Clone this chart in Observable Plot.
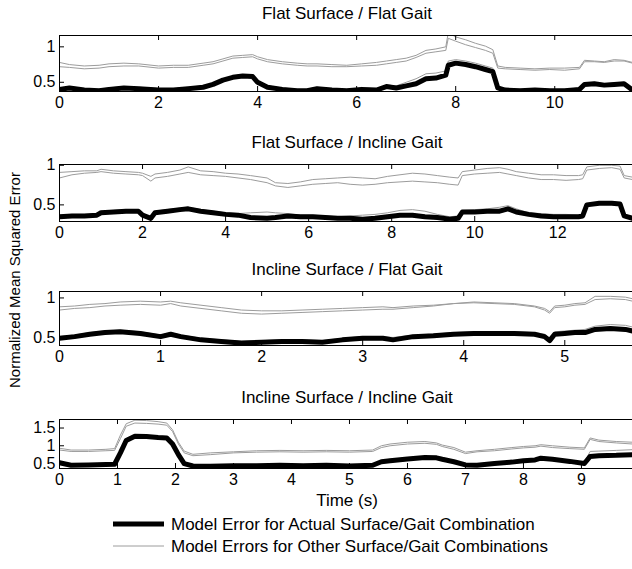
<!DOCTYPE html>
<html><head><meta charset="utf-8">
<script src="https://cdn.jsdelivr.net/npm/d3@7"></script>
<script src="https://cdn.jsdelivr.net/npm/@observablehq/plot@0.6"></script>
<style>
body{margin:0;background:#fff;}
#chart{position:relative;width:632px;height:569px;overflow:hidden;font-family:"Liberation Sans",Arial,Helvetica,sans-serif;color:#000;background:#fff;}
.title{position:absolute;left:59px;width:576px;text-align:center;font-size:17px;line-height:17px;white-space:nowrap;}
.panel{position:absolute;left:0;}
.ylab{position:absolute;font-size:15px;line-height:15px;white-space:nowrap;transform:translate(-50%,-50%) rotate(-90deg);}
.xlab{position:absolute;left:59px;width:576px;text-align:center;font-size:17px;line-height:17px;}
.legend{position:absolute;left:0;top:0;}
</style>
</head><body>
<div id="chart"></div>
<script>
// ---------- data ----------
const titles = ["Flat Surface / Flat Gait","Flat Surface / Incline Gait","Incline Surface / Flat Gait","Incline Surface / Incline Gait"];
const xLabel = "Time (s)";
const yLabel = "Normalized Mean Squared Error";
const legendLabels = ["Model Error for Actual Surface/Gait Combination","Model Errors for Other Surface/Gait Combinations"];

const p1XTicks = [0,2,4,6,8,10];
const p2XTicks = [0,2,4,6,8,10,12];
const p3XTicks = [0,1,2,3,4,5];
const p4XTicks = [0,1,2,3,4,5,6,7,8,9];
const p1YTicks = [0.5,1];
const p2YTicks = [0.5,1];
const p3YTicks = [0.5,1];
const p4YTicks = [0.5,1,1.5];

const p1Time = [0,0.2,0.5,0.8,1.0,1.3,1.6,2.0,2.3,2.6,2.9,3.1,3.3,3.5,3.7,3.9,4.0,4.2,4.5,4.8,5.0,5.2,5.5,5.8,6.1,6.4,6.6,6.8,7.0,7.2,7.4,7.6,7.8,7.85,8.0,8.2,8.4,8.6,8.75,8.85,9.0,9.3,9.6,9.9,10.2,10.5,10.6,10.8,11.0,11.2,11.4,11.57];
const p1Actual = [0.40,0.42,0.39,0.38,0.40,0.42,0.41,0.39,0.39,0.41,0.43,0.47,0.53,0.57,0.59,0.58,0.50,0.43,0.40,0.38,0.38,0.41,0.39,0.38,0.40,0.39,0.44,0.42,0.45,0.48,0.55,0.56,0.60,0.74,0.77,0.75,0.72,0.68,0.65,0.42,0.39,0.38,0.39,0.38,0.38,0.40,0.47,0.48,0.46,0.47,0.48,0.39];
const p1OtherA = [0.78,0.75,0.73,0.74,0.76,0.77,0.76,0.73,0.74,0.74,0.77,0.79,0.83,0.87,0.88,0.89,0.86,0.82,0.79,0.77,0.76,0.76,0.75,0.74,0.76,0.78,0.80,0.82,0.84,0.88,0.95,0.97,1.00,1.20,1.14,1.10,1.05,1.01,0.96,0.73,0.71,0.70,0.69,0.70,0.70,0.71,0.81,0.80,0.79,0.82,0.81,0.78];
const p1OtherB = [0.72,0.71,0.69,0.70,0.72,0.73,0.73,0.70,0.71,0.71,0.74,0.76,0.80,0.84,0.85,0.86,0.83,0.79,0.76,0.74,0.73,0.73,0.72,0.72,0.73,0.74,0.76,0.78,0.80,0.85,0.91,0.93,0.95,1.12,1.08,1.03,0.99,0.95,0.91,0.70,0.69,0.68,0.67,0.68,0.67,0.69,0.79,0.79,0.78,0.80,0.80,0.77];
const p1OtherC = [0.42,0.44,0.41,0.40,0.42,0.44,0.43,0.41,0.41,0.43,0.45,0.49,0.55,0.59,0.61,0.60,0.52,0.45,0.42,0.40,0.40,0.43,0.41,0.40,0.42,0.41,0.46,0.45,0.50,0.55,0.62,0.63,0.66,0.80,0.82,0.80,0.77,0.73,0.70,0.44,0.41,0.40,0.41,0.40,0.40,0.42,0.49,0.50,0.48,0.49,0.50,0.41];

const p2Time = [0,0.3,0.6,0.9,1.0,1.3,1.6,1.9,2.0,2.2,2.3,2.6,2.9,3.1,3.4,3.7,4.0,4.3,4.6,5.0,5.2,5.5,5.8,6.1,6.4,6.7,7.0,7.3,7.6,7.9,8.2,8.5,8.8,9.1,9.4,9.6,9.7,10.0,10.3,10.6,10.8,11.0,11.3,11.6,11.9,12.2,12.5,12.6,12.7,13.0,13.3,13.5,13.6,13.8];
const p2Actual = [0.35,0.36,0.36,0.37,0.40,0.41,0.42,0.42,0.37,0.33,0.40,0.42,0.44,0.45,0.42,0.40,0.38,0.37,0.34,0.33,0.34,0.36,0.35,0.35,0.34,0.33,0.33,0.32,0.33,0.35,0.37,0.37,0.35,0.34,0.32,0.33,0.41,0.41,0.42,0.42,0.45,0.41,0.38,0.36,0.35,0.35,0.35,0.36,0.50,0.52,0.52,0.51,0.36,0.33];
const p2OtherA = [0.91,0.92,0.93,0.93,0.95,0.93,0.92,0.91,0.90,0.86,0.89,0.91,0.94,0.98,0.93,0.92,0.90,0.89,0.87,0.84,0.78,0.77,0.79,0.82,0.83,0.84,0.85,0.84,0.83,0.86,0.88,0.90,0.89,0.87,0.85,0.84,0.92,0.94,0.96,0.97,0.95,0.92,0.90,0.88,0.88,0.87,0.87,0.88,0.98,1.00,1.00,0.99,0.87,0.85];
const p2OtherB = [0.84,0.88,0.90,0.91,0.92,0.90,0.89,0.88,0.87,0.80,0.84,0.86,0.89,0.91,0.88,0.87,0.86,0.84,0.82,0.78,0.74,0.72,0.74,0.76,0.77,0.78,0.76,0.75,0.76,0.78,0.79,0.80,0.79,0.78,0.76,0.75,0.87,0.89,0.90,0.91,0.89,0.87,0.84,0.82,0.82,0.81,0.82,0.83,0.94,0.96,0.97,0.95,0.84,0.82];
const p2OtherC = [0.37,0.38,0.38,0.39,0.42,0.43,0.44,0.44,0.39,0.35,0.42,0.44,0.46,0.47,0.44,0.42,0.40,0.39,0.40,0.41,0.40,0.39,0.37,0.37,0.36,0.35,0.36,0.37,0.38,0.40,0.43,0.44,0.42,0.38,0.35,0.36,0.43,0.44,0.45,0.47,0.49,0.45,0.40,0.39,0.38,0.38,0.37,0.38,0.51,0.53,0.53,0.52,0.38,0.35];

const p3Time = [0,0.15,0.3,0.45,0.6,0.8,1.0,1.1,1.2,1.4,1.6,1.8,2.0,2.2,2.4,2.6,2.8,3.0,3.2,3.3,3.5,3.7,3.9,4.1,4.3,4.5,4.7,4.8,4.85,4.9,5.0,5.1,5.2,5.3,5.45,5.6,5.67];
const p3Actual = [0.50,0.52,0.55,0.57,0.58,0.56,0.52,0.55,0.52,0.48,0.46,0.44,0.45,0.46,0.46,0.45,0.48,0.50,0.50,0.48,0.52,0.53,0.55,0.56,0.56,0.56,0.55,0.52,0.47,0.55,0.56,0.57,0.57,0.61,0.62,0.61,0.59];
const p3OtherA = [0.89,0.90,0.92,0.93,0.95,0.96,0.95,0.96,0.94,0.91,0.88,0.85,0.84,0.84,0.85,0.86,0.87,0.88,0.89,0.88,0.90,0.91,0.93,0.95,0.94,0.93,0.90,0.87,0.83,0.90,0.91,0.93,0.94,1.02,1.02,1.01,0.99];
const p3OtherB = [0.85,0.87,0.88,0.90,0.91,0.92,0.91,0.93,0.90,0.87,0.84,0.81,0.80,0.81,0.82,0.83,0.84,0.85,0.86,0.86,0.88,0.90,0.93,0.94,0.93,0.92,0.89,0.85,0.81,0.88,0.89,0.91,0.92,0.98,0.99,0.98,0.96];
const p3OtherC = [0.52,0.54,0.57,0.59,0.60,0.58,0.54,0.57,0.54,0.50,0.48,0.46,0.47,0.48,0.48,0.47,0.50,0.52,0.52,0.51,0.54,0.55,0.57,0.58,0.58,0.58,0.57,0.55,0.50,0.58,0.59,0.60,0.61,0.65,0.67,0.66,0.64];

const p4Time = [0,0.2,0.5,0.8,0.95,1.05,1.15,1.3,1.5,1.7,1.85,1.95,2.05,2.15,2.3,2.6,3.0,3.4,3.8,4.2,4.6,5.0,5.4,5.55,5.7,6.0,6.3,6.5,6.6,6.8,7.0,7.2,7.5,7.8,8.0,8.2,8.3,8.5,8.8,9.05,9.15,9.3,9.6,9.88];
const p4Actual = [0.52,0.45,0.46,0.47,0.48,0.80,1.15,1.27,1.26,1.23,1.22,1.05,0.75,0.50,0.43,0.42,0.44,0.44,0.45,0.44,0.45,0.43,0.45,0.55,0.58,0.63,0.67,0.66,0.62,0.55,0.46,0.45,0.50,0.54,0.58,0.60,0.65,0.62,0.56,0.50,0.70,0.72,0.73,0.75];
const p4OtherA = [0.93,0.88,0.88,0.90,0.92,1.30,1.62,1.72,1.71,1.68,1.64,1.45,1.10,0.85,0.76,0.80,0.83,0.86,0.87,0.86,0.87,0.86,0.88,1.00,1.05,1.10,1.12,1.08,1.02,0.95,0.82,0.86,0.90,0.95,0.98,1.00,1.03,1.00,0.96,0.94,1.22,1.16,1.12,1.10];
const p4OtherB = [0.88,0.84,0.84,0.86,0.87,1.20,1.55,1.64,1.63,1.61,1.58,1.40,1.05,0.80,0.72,0.75,0.80,0.82,0.83,0.82,0.83,0.82,0.84,0.95,1.00,1.05,1.07,1.04,0.98,0.90,0.78,0.83,0.86,0.91,0.94,0.96,0.99,0.95,0.92,0.90,1.18,1.12,1.08,1.05];
const p4OtherC = [0.55,0.48,0.49,0.50,0.51,0.85,1.20,1.31,1.30,1.27,1.26,1.10,0.80,0.53,0.46,0.45,0.47,0.47,0.48,0.47,0.48,0.46,0.48,0.58,0.62,0.66,0.70,0.69,0.65,0.58,0.49,0.48,0.53,0.57,0.61,0.63,0.68,0.65,0.59,0.53,0.84,0.85,0.87,0.89];

// ---------- layout ----------
const FONT = "Liberation Sans, Arial, Helvetica, sans-serif";
const W = 632, ML = 59, MT = 1, MB = 26;
const panels = [
  {title: titles[0], t: p1Time, actual: p1Actual, others: [p1OtherA, p1OtherB, p1OtherC], xd: [0, 11.57], xt: p1XTicks, yd: [0.37, 1.16], yt: p1YTicks, top: 35, fh: 56},
  {title: titles[1], t: p2Time, actual: p2Actual, others: [p2OtherA, p2OtherB, p2OtherC], xd: [0, 13.8], xt: p2XTicks, yd: [0.29, 1.01], yt: p2YTicks, top: 164, fh: 57},
  {title: titles[2], t: p3Time, actual: p3Actual, others: [p3OtherA, p3OtherB, p3OtherC], xd: [0, 5.67], xt: p3XTicks, yd: [0.41, 1.08], yt: p3YTicks, top: 291, fh: 54},
  {title: titles[3], t: p4Time, actual: p4Actual, others: [p4OtherA, p4OtherB, p4OtherC], xd: [0, 9.88], xt: p4XTicks, yd: [0.36, 1.74], yt: p4YTicks, top: 419, fh: 49}
];

const root = document.getElementById("chart");

function drawPanel(p) {
  const FH = p.fh;
  const rows = [];
  p.others.forEach((arr, k) => arr.forEach((v, i) => rows.push({t: p.t[i], v, s: "o" + k})));
  const act = p.actual.map((v, i) => ({t: p.t[i], v}));
  const svg = Plot.plot({
    width: W, height: FH + MT + MB,
    marginLeft: ML, marginRight: 0, marginTop: MT, marginBottom: MB,
    style: {fontFamily: FONT, fontSize: "16px", color: "#000", background: "transparent", overflow: "visible"},
    x: {domain: p.xd, label: null},
    y: {domain: p.yd, label: null},
    marks: [
      Plot.line(rows, {x: "t", y: "v", z: "s", stroke: "#9c9c9c", strokeWidth: 1, clip: true}),
      Plot.line(act, {x: "t", y: "v", stroke: "#000", strokeWidth: 5, strokeLinejoin: "round", clip: true}),
      Plot.tickX(p.xt, {x: d => d, insetTop: FH - 5, stroke: "#000"}),
      Plot.tickX(p.xt, {x: d => d, insetBottom: FH - 5, stroke: "#000"}),
      Plot.tickY(p.yt, {y: d => d, insetRight: W - ML - 5, stroke: "#000"}),
      Plot.ruleY([p.yd[0], p.yd[1]], {stroke: "#000"}),
      Plot.ruleX([p.xd[0]], {stroke: "#000"}),
      Plot.axisX(p.xt, {tickSize: 0, tickPadding: 5, tickFormat: d => String(d), fontSize: 16}),
      Plot.axisY(p.yt, {tickSize: 0, tickPadding: 4, tickFormat: d => String(d), fontSize: 16})
    ]
  });
  svg.classList.add("panel");
  svg.style.top = (p.top - MT) + "px";
  root.appendChild(svg);

  const tt = document.createElement("div");
  tt.className = "title";
  tt.textContent = p.title;
  tt.style.top = (p.top - 30) + "px";
  root.appendChild(tt);
}
panels.forEach(drawPanel);

const yl = document.createElement("div");
yl.className = "ylab";
yl.textContent = yLabel;
yl.style.left = "14px";
yl.style.top = "280px";
root.appendChild(yl);

const xl = document.createElement("div");
xl.className = "xlab";
xl.textContent = xLabel;
xl.style.top = "492px";
root.appendChild(xl);

// legend
const ns = "http://www.w3.org/2000/svg";
const lg = document.createElementNS(ns, "svg");
lg.setAttribute("width", W); lg.setAttribute("height", 569);
lg.setAttribute("class", "legend");
const legendY = [524, 546];
const legendStroke = [["#000", 5], ["#9c9c9c", 1]];
legendLabels.forEach((lab, i) => {
  const ln = document.createElementNS(ns, "line");
  ln.setAttribute("x1", 113); ln.setAttribute("x2", 164);
  ln.setAttribute("y1", legendY[i]); ln.setAttribute("y2", legendY[i]);
  ln.setAttribute("stroke", legendStroke[i][0]); ln.setAttribute("stroke-width", legendStroke[i][1]);
  lg.appendChild(ln);
  const tx = document.createElementNS(ns, "text");
  tx.setAttribute("x", 171); tx.setAttribute("y", legendY[i]);
  tx.setAttribute("dy", "0.35em");
  tx.setAttribute("font-size", 17);
  tx.setAttribute("font-family", FONT);
  tx.textContent = lab;
  lg.appendChild(tx);
});
root.appendChild(lg);
</script>
</body></html>
